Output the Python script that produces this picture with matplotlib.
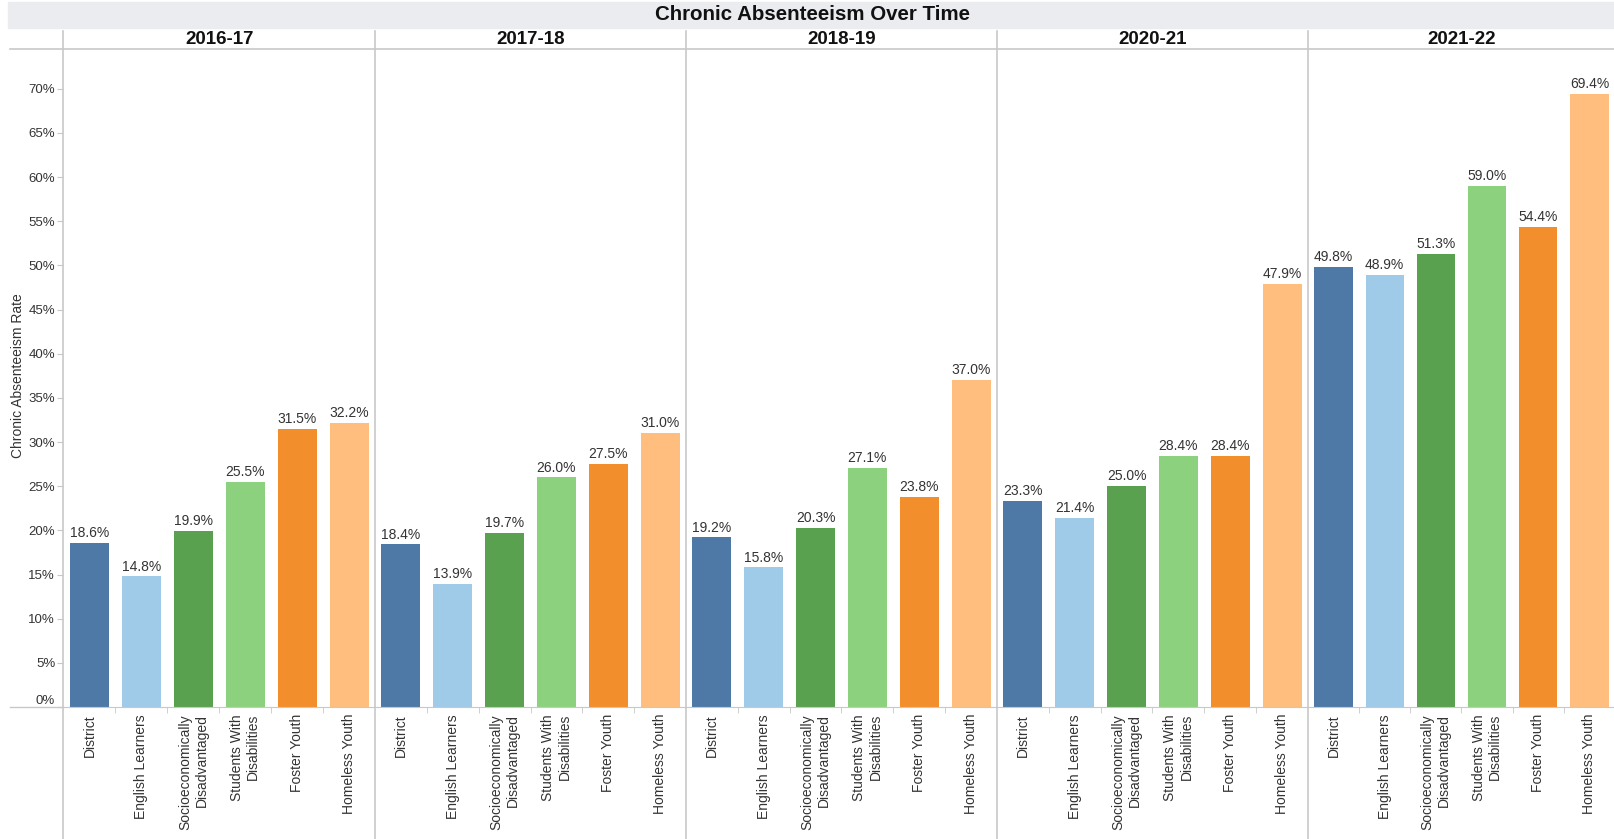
import matplotlib
matplotlib.use("Agg")
import matplotlib.pyplot as plt
from matplotlib.lines import Line2D
from matplotlib.patches import Rectangle

years = ["2016-17", "2017-18", "2018-19", "2020-21", "2021-22"]
groups = ["District", "English Learners", "Socioeconomically\nDisadvantaged",
          "Students With\nDisabilities", "Foster Youth", "Homeless Youth"]
colors = ["#4E79A7", "#A0CBE8", "#59A14F", "#8CD17D", "#F28E2B", "#FFBE7D"]

rate_1617 = [18.6, 14.8, 19.9, 25.5, 31.5, 32.2]
rate_1718 = [18.4, 13.9, 19.7, 26.0, 27.5, 31.0]
rate_1819 = [19.2, 15.8, 20.3, 27.1, 23.8, 37.0]
rate_2021 = [23.3, 21.4, 25.0, 28.4, 28.4, 47.9]
rate_2122 = [49.8, 48.9, 51.3, 59.0, 54.4, 69.4]
rates = [rate_1617, rate_1718, rate_1819, rate_2021, rate_2122]

plt.rcParams.update({
    "font.family": ["Liberation Sans", "DejaVu Sans"],
    "text.color": "#333333",
    "xtick.color": "#333333", "ytick.color": "#333333",
})

W, H = 1615, 839
LINE = "#C8C8C8"
fig = plt.figure(figsize=(W / 100, H / 100), dpi=100)

def fx(px): return px / W
def fy(py): return 1 - py / H

# header band + title
fig.patches.append(Rectangle((fx(8), fy(28)), fx(W - 8), (28 - 2) / H,
                             transform=fig.transFigure, color="#EBECF0", zorder=0))
fig.text(fx(813), fy(15), "Chronic Absenteeism Over Time", ha="center", va="center",
         fontsize=14.8, fontweight="bold", color="#111111")
fig.text(fx(18), fy(376), "Chronic Absenteeism Rate", rotation=90, ha="center",
         va="center", fontsize=10)

edges = [63.5, 375, 686, 997, 1308, 1615]
top, base = 49, 707
ymax = 74.5
yt = list(range(0, 75, 5))
for i, (yr, vals) in enumerate(zip(years, rates)):
    x0, x1 = edges[i], edges[i + 1]
    ax = fig.add_axes([fx(x0), fy(base), fx(x1 - x0), (base - top) / H])
    xs = list(range(len(groups)))
    ax.bar(xs, vals, width=0.75, color=colors, zorder=2)
    for x, v in zip(xs, vals):
        ax.annotate(f"{v:.1f}%", (x, v), xytext=(0, 2), textcoords="offset points",
                    ha="center", va="bottom", fontsize=10)
    ax.set_xlim(-0.5, len(groups) - 0.5)
    ax.set_ylim(0, ymax)
    for s in ["top", "right", "left"]:
        ax.spines[s].set_visible(False)
    ax.spines["bottom"].set_color(LINE)
    ax.set_xticks(xs, groups, rotation=90, fontsize=10, va="top", ha="center",
                  multialignment="right")
    ax.tick_params(axis="x", which="major", length=0, pad=5)
    ax.set_xticks([x + 0.5 for x in xs[:-1]], minor=True)
    ax.tick_params(axis="x", which="minor", length=4, color=LINE)
    ax.set_yticks(yt)
    if i == 0:
        labels = ax.set_yticklabels([f"{t}%" for t in yt], fontsize=9.5)
        labels[0].set_va("bottom")
        ax.tick_params(axis="y", length=4, color=LINE, pad=2)
    else:
        ax.tick_params(axis="y", length=0, labelleft=False)
    ax.set_facecolor("none")
    fig.text(fx((x0 + x1) / 2), fy(40), yr, ha="center", va="center",
             fontsize=13.5, fontweight="bold", color="#111111")

# panel frame lines
fig.add_artist(Line2D([fx(10), fx(W)], [fy(top), fy(top)], color=LINE, lw=1.2))
fig.add_artist(Line2D([fx(10), fx(63.5)], [fy(base), fy(base)], color=LINE, lw=1))
for e in edges[:-1]:
    fig.add_artist(Line2D([fx(e), fx(e)], [fy(31), fy(H)], color=LINE, lw=1.2))

fig.savefig("out.png", dpi=100, facecolor="white")
